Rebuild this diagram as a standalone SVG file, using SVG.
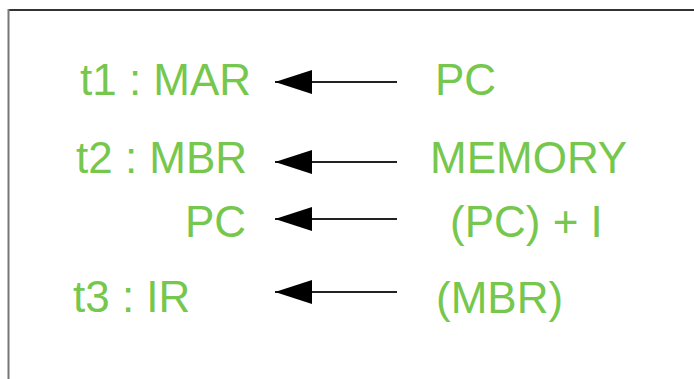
<svg xmlns="http://www.w3.org/2000/svg" width="694" height="379" viewBox="0 0 694 379">
<defs>
<style>
.t{font-family:"Liberation Sans",Arial,sans-serif;font-size:44px;fill:#76c74d;}
.c{stroke:#222;stroke-width:2.2;fill:none;}
</style>
<marker id="ah" markerUnits="userSpaceOnUse" markerWidth="38" markerHeight="26" refX="37" refY="12.5" orient="auto" viewBox="0 0 38 26">
<path d="M0,0.5 L37,12.5 L0,24.5 Z" fill="#000"/>
</marker>
</defs>
<rect width="694" height="379" fill="#fff"/>
<g id="frame">
<line x1="8" y1="10" x2="694" y2="10" stroke="#333" stroke-width="2"/>
<line x1="8.5" y1="9" x2="8.5" y2="379" stroke="#777" stroke-width="2"/>
</g>
<g id="connectors">
<line class="c" x1="397" y1="82" x2="275" y2="82" marker-end="url(#ah)"/>
<line class="c" x1="397" y1="162" x2="275" y2="162" marker-end="url(#ah)"/>
<line class="c" x1="397" y1="219" x2="275" y2="219" marker-end="url(#ah)"/>
<line class="c" x1="397" y1="292" x2="275" y2="292" marker-end="url(#ah)"/>
</g>
<g id="t1-mar"><text class="t" x="80" y="95">t1 : MAR</text></g>
<g id="pc-src"><text class="t" x="435" y="95">PC</text></g>
<g id="t2-mbr"><text class="t" x="76" y="173">t2 : MBR</text></g>
<g id="memory"><text class="t" x="430" y="173">MEMORY</text></g>
<g id="pc-dst"><text class="t" x="185" y="237">PC</text></g>
<g id="pc-inc"><text class="t" x="450" y="237">(PC) + I</text></g>
<g id="t3-ir"><text class="t" x="73" y="312">t3 : IR</text></g>
<g id="mbr-src"><text class="t" x="436" y="313">(MBR)</text></g>
</svg>
